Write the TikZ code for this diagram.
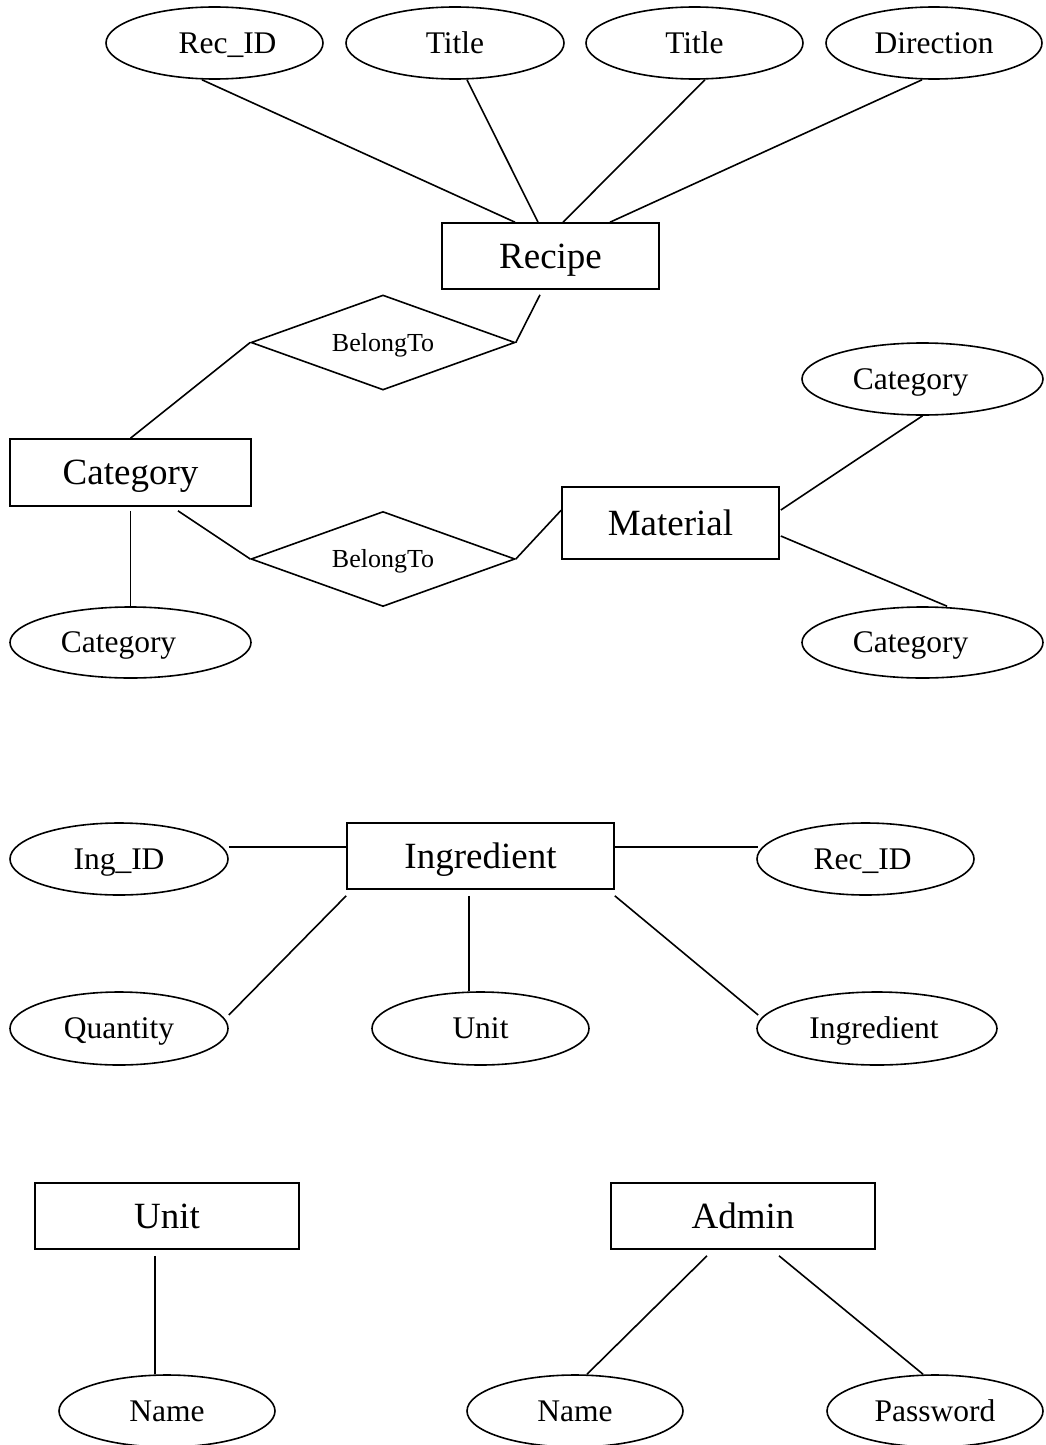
\documentclass[tikz,border=0pt]{standalone}
\usepackage{fontspec}
\setmainfont{Liberation Serif}
\usetikzlibrary{shapes.geometric,calc}

\tikzset{
  entity/.style={draw, rectangle, line width=1.6pt, inner sep=0pt,
    text height=24.4pt, text depth=0pt,
    font=\fontsize{37}{40}\selectfont},
  attr/.style={draw, ellipse, line width=1.6pt, inner sep=0pt,
    text height=20.8pt, text depth=0pt,
    font=\fontsize{31.5}{34}\selectfont},
  relation/.style={draw, diamond, aspect=2.78, line width=1.6pt, inner sep=0pt,
    minimum width=264pt, minimum height=95pt,
    text height=17.2pt, text depth=0pt,
    font=\fontsize{26}{28}\selectfont},
  link/.style={line width=1.6pt}
}

\begin{document}
\begin{tikzpicture}[x=1pt, y=-1pt]
\useasboundingbox (0,0) rectangle (1045,1445);
\clip (0,0) rectangle (1045,1445);

% Recipe and its attributes
\node[attr, minimum width=217pt, minimum height=72pt] (recid)  at (214.5,43) {\hspace*{26pt}Rec\_ID};
\node[attr, minimum width=218pt, minimum height=72pt] (title1) at (455,43)   {Title};
\node[attr, minimum width=217pt, minimum height=72pt] (title2) at (694.5,43) {Title};
\node[attr, minimum width=216pt, minimum height=72pt] (dir)    at (934,43)   {Direction};
\node[entity, minimum width=217pt, minimum height=66pt] (recipe) at (550.5,256) {Recipe};

% Category, Material and their relationships
\node[relation] (belong1) at (383,342.5) {BelongTo};
\node[entity, minimum width=241pt, minimum height=67pt] (category) at (130.5,472.5) {Category};
\node[attr, minimum width=241pt, minimum height=71pt] (catattr) at (130.5,642.5) {Category\hspace*{24pt}};
\node[relation] (belong2) at (383,559) {BelongTo};
\node[entity, minimum width=217pt, minimum height=72pt] (material) at (670.5,523) {Material};
\node[attr, minimum width=241pt, minimum height=72pt] (matcat1) at (922.5,379) {Category\hspace*{24pt}};
\node[attr, minimum width=241pt, minimum height=71pt] (matcat2) at (922.5,642.5) {Category\hspace*{24pt}};

% Ingredient
\node[entity, minimum width=267pt, minimum height=66pt] (ingredient) at (480.5,856) {Ingredient};
\node[attr, minimum width=218pt, minimum height=72pt] (ingid)  at (119,859) {Ing\_ID};
\node[attr, minimum width=217pt, minimum height=72pt] (ingrec) at (865.5,859) {Rec\_ID\hspace*{6pt}};
\node[attr, minimum width=218pt, minimum height=73pt] (quantity) at (119,1028.5) {Quantity};
\node[attr, minimum width=217pt, minimum height=73pt] (unitattr) at (480.5,1028.5) {Unit};
\node[attr, minimum width=240pt, minimum height=73pt] (ingattr)  at (877,1028.5) {Ingredient\hspace*{6pt}};

% Unit and Admin
\node[entity, minimum width=264pt, minimum height=66pt] (unitent) at (167,1216) {Unit};
\node[entity, minimum width=264pt, minimum height=66pt] (admin)   at (743,1216) {Admin};
\node[attr, minimum width=216pt, minimum height=72pt] (name1)    at (167,1411) {Name};
\node[attr, minimum width=216pt, minimum height=72pt] (name2)    at (575,1411) {Name};
\node[attr, minimum width=216pt, minimum height=72pt] (password) at (935,1411) {Password};

% Connectors
\draw[link] ($(recid.south)+(-12.5,0)$) -- ($(recipe.north)+(-35.5,0)$);
\draw[link] ($(title1.south)+(12,0)$) -- ($(recipe.north)+(-12.5,0)$);
\draw[link] ($(title2.south)+(10.5,0)$) -- ($(recipe.north)+(12.5,0)$);
\draw[link] ($(dir.south)+(-12,0)$) -- ($(recipe.north)+(59.5,0)$);

\draw[link] ($(recipe.south)+(-10.5,5)$) -- (belong1.east);
\draw[link] (belong1.west) -- (category.north);
\draw[link] ($(category.south)+(0,4)$) -- (catattr.north);
\draw[link] ($(category.south)+(47.5,4)$) -- (belong2.west);
\draw[link] (belong2.east) -- ($(material.north west)+(0,24)$);
\draw[link] ($(material.east)+(1,-13)$) -- (matcat1.south);
\draw[link] ($(material.east)+(1,13)$) -- ($(matcat2.north)+(24.5,0)$);

\draw[link] ($(ingid.east)+(0,-12)$) -- ($(ingredient.west)+(0,-9)$);
\draw[link] ($(ingredient.east)+(0,-9)$) -- ($(ingrec.west)+(2,-12)$);
\draw[link] ($(ingredient.south west)+(0,6)$) -- ($(quantity.east)+(0,-13.5)$);
\draw[link] ($(ingredient.south)+(-11.5,6)$) -- ($(unitattr.north)+(-11.5,0)$);
\draw[link] ($(ingredient.south east)+(0,6)$) -- ($(ingattr.west)+(2,-13.5)$);

\draw[link] ($(unitent.south)+(-12,6)$) -- ($(name1.north)+(-12,0)$);
\draw[link] ($(admin.south)+(-36,6)$) -- ($(name2.north)+(12,0)$);
\draw[link] ($(admin.south)+(36,6)$) -- ($(password.north)+(-12,0)$);
\end{tikzpicture}
\end{document}
